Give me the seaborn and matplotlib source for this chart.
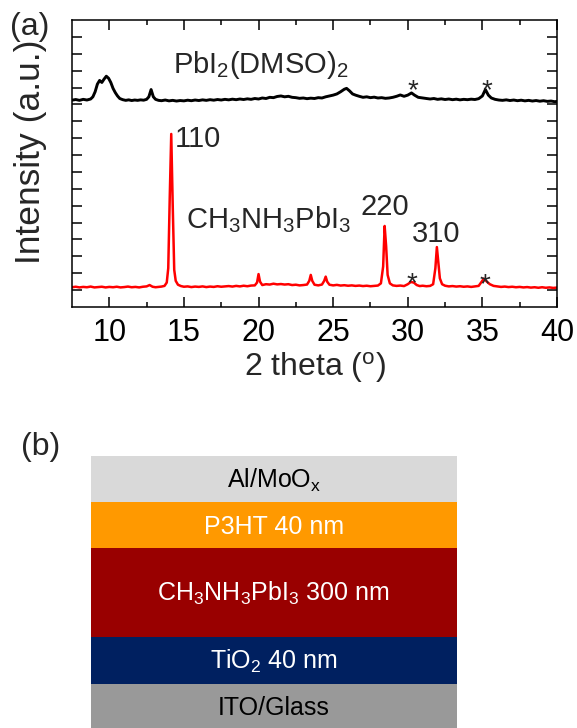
import numpy as np
import pandas as pd
import matplotlib
matplotlib.use("Agg")
import matplotlib.pyplot as plt
import seaborn as sns

# ---- XRD traces (2 theta in degrees, intensity in arbitrary offset units) ----
mapi_2theta = [
    7.5, 7.75, 8.0, 8.25, 8.5, 8.75, 9.0, 9.25, 9.5, 9.75, 10.0, 10.25, 10.5, 10.75,
    11.0, 11.25, 11.5, 11.75, 12.0, 12.25, 12.5, 12.7, 12.9, 13.1, 13.3, 13.5, 13.7,
    13.85, 13.95, 14.05, 14.15, 14.25, 14.35, 14.45, 14.6, 14.8, 15.0, 15.25, 15.5,
    15.75, 16.0, 16.25, 16.5, 16.75, 17.0, 17.25, 17.5, 17.75, 18.0, 18.25, 18.5,
    18.75, 19.0, 19.25, 19.5, 19.75, 19.9, 20.0, 20.1, 20.25, 20.5, 20.75, 21.0,
    21.25, 21.5, 21.75, 22.0, 22.25, 22.5, 22.75, 23.0, 23.25, 23.4, 23.5, 23.6,
    23.75, 24.0, 24.25, 24.4, 24.5, 24.6, 24.75, 25.0, 25.25, 25.5, 25.75, 26.0,
    26.25, 26.5, 26.75, 27.0, 27.25, 27.5, 27.75, 28.0, 28.2, 28.35, 28.45, 28.55,
    28.65, 28.8, 29.0, 29.25, 29.5, 29.75, 30.0, 30.2, 30.4, 30.6, 30.8, 31.0,
    31.25, 31.5, 31.7, 31.85, 31.95, 32.05, 32.15, 32.3, 32.5, 32.75, 33.0, 33.25,
    33.5, 33.75, 34.0, 34.25, 34.5, 34.75, 34.95, 35.1, 35.3, 35.5, 35.75, 36.0,
    36.25, 36.5, 36.75, 37.0, 37.25, 37.5, 37.75, 38.0, 38.25, 38.5, 38.75, 39.0,
    39.25, 39.5, 39.75, 40.0,
]
mapi_intensity = [
    1.17, 1.20, 1.16, 1.19, 1.17, 1.21, 1.16, 1.18, 1.20, 1.16, 1.19, 1.17, 1.20, 1.16,
    1.18, 1.21, 1.17, 1.19, 1.16, 1.20, 1.22, 1.30, 1.20, 1.17, 1.19, 1.21, 1.25,
    1.45, 2.30, 6.50, 10.25, 6.00, 2.20, 1.55, 1.32, 1.24, 1.20, 1.22, 1.18,
    1.21, 1.19, 1.22, 1.18, 1.21, 1.19, 1.23, 1.20, 1.22, 1.24, 1.21, 1.25,
    1.22, 1.26, 1.23, 1.27, 1.28, 1.45, 1.95, 1.50, 1.30, 1.35, 1.33, 1.38,
    1.34, 1.36, 1.33, 1.35, 1.30, 1.32, 1.28, 1.30, 1.33, 1.55, 1.90, 1.55,
    1.32, 1.28, 1.33, 1.55, 1.80, 1.50, 1.32, 1.28, 1.31, 1.27, 1.29, 1.26,
    1.28, 1.25, 1.27, 1.24, 1.26, 1.23, 1.25, 1.27, 1.40, 2.40, 4.80, 3.60,
    1.90, 1.40, 1.28, 1.25, 1.27, 1.24, 1.35, 1.48, 1.45, 1.30, 1.24, 1.26,
    1.23, 1.25, 1.35, 2.30, 3.55, 2.60, 1.70, 1.35, 1.26, 1.22, 1.24, 1.21,
    1.23, 1.20, 1.22, 1.19, 1.22, 1.25, 1.50, 1.68, 1.50, 1.35, 1.25, 1.22,
    1.19, 1.21, 1.18, 1.20, 1.17, 1.19, 1.16, 1.18, 1.15, 1.17, 1.14, 1.17,
    1.14, 1.16, 1.13, 1.15,
]

dmso_2theta = [
    7.5, 7.75, 8.0, 8.25, 8.5, 8.75, 8.9, 9.05, 9.2, 9.35, 9.5, 9.65, 9.8, 9.95,
    10.1, 10.25, 10.4, 10.55, 10.7, 10.9, 11.1, 11.3, 11.5, 11.7, 11.9, 12.1, 12.3,
    12.5, 12.65, 12.8, 12.95, 13.1, 13.3, 13.5, 13.75, 14.0, 14.25, 14.5, 14.75,
    15.0, 15.25, 15.5, 15.75, 16.0, 16.25, 16.5, 16.75, 17.0, 17.25, 17.5, 17.75,
    18.0, 18.25, 18.5, 18.75, 19.0, 19.25, 19.5, 19.75, 20.0, 20.25, 20.5, 20.75,
    21.0, 21.25, 21.5, 21.75, 22.0, 22.25, 22.5, 22.75, 23.0, 23.25, 23.5, 23.75,
    24.0, 24.25, 24.5, 24.75, 25.0, 25.25, 25.5, 25.75, 25.9, 26.1, 26.3, 26.5,
    26.75, 27.0, 27.25, 27.5, 27.75, 28.0, 28.25, 28.5, 28.75, 29.0, 29.25, 29.5,
    29.75, 30.0, 30.25, 30.45, 30.7, 31.0, 31.25, 31.5, 31.75, 32.0, 32.25, 32.5,
    32.75, 33.0, 33.25, 33.5, 33.75, 34.0, 34.25, 34.5, 34.75, 35.0, 35.2, 35.4,
    35.6, 35.85, 36.1, 36.35, 36.6, 36.85, 37.1, 37.35, 37.6, 37.85, 38.1, 38.35,
    38.6, 38.85, 39.1, 39.35, 39.6, 39.85, 40.0,
]
dmso_intensity = [
    12.25, 12.29, 12.24, 12.30, 12.26, 12.32, 12.45, 12.75, 13.20, 13.42, 13.30, 13.50, 13.67, 13.55,
    13.30, 12.95, 12.70, 12.50, 12.35, 12.28, 12.24, 12.27, 12.23, 12.26, 12.24, 12.27, 12.25,
    12.30, 12.45, 12.88, 12.45, 12.30, 12.24, 12.22, 12.26, 12.21, 12.24, 12.20, 12.23,
    12.21, 12.25, 12.22, 12.26, 12.23, 12.27, 12.24, 12.28, 12.25, 12.29, 12.26, 12.30,
    12.27, 12.31, 12.28, 12.32, 12.29, 12.33, 12.30, 12.35, 12.32, 12.38, 12.35, 12.42,
    12.40, 12.47, 12.50, 12.45, 12.48, 12.42, 12.40, 12.36, 12.38, 12.34, 12.37, 12.35,
    12.40, 12.38, 12.45, 12.50, 12.55, 12.62, 12.75, 12.90, 12.95, 12.80, 12.62, 12.55,
    12.48, 12.42, 12.45, 12.40, 12.43, 12.38, 12.40, 12.36, 12.38, 12.42, 12.48, 12.56,
    12.48, 12.55, 12.68, 12.55, 12.42, 12.38, 12.35, 12.32, 12.35, 12.30, 12.33, 12.29,
    12.32, 12.28, 12.31, 12.27, 12.30, 12.28, 12.31, 12.29, 12.34, 12.50, 12.88, 12.55,
    12.38, 12.30, 12.26, 12.24, 12.27, 12.23, 12.26, 12.22, 12.25, 12.21, 12.24, 12.20,
    12.23, 12.19, 12.22, 12.18, 12.20, 12.16, 12.18,
]

# Miller-index labels for the perovskite reflections: (text, 2theta, intensity)
hkl_labels = ["110", "220", "310"]
hkl_2theta = [14.4, 26.8, 30.28]
hkl_intensity = [9.5, 5.45, 3.85]

# Impurity markers (*) on each trace
star_2theta = [30.35, 35.3, 30.28, 35.2]
star_intensity = [12.39, 12.39, 0.96, 0.90]

# ---- Device stack (bottom to top), schematic heights ----
layer_names = ["ITO/Glass", r"TiO$_2$ 40 nm", r"CH$_3$NH$_3$PbI$_3$ 300 nm",
               "P3HT 40 nm", r"Al/MoO$_\mathregular{x}$"]
layer_heights = [1.0, 1.0, 1.93, 1.0, 1.0]
layer_colors = ["#999999", "#002060", "#990000", "#ff9900", "#d9d9d9"]
layer_text_colors = ["black", "white", "white", "white", "black"]

sns.set_style("ticks")
plt.rcParams["font.family"] = ["Liberation Sans", "DejaVu Sans"]
plt.rcParams["mathtext.fontset"] = "custom"
plt.rcParams["mathtext.rm"] = "Liberation Sans"
plt.rcParams["mathtext.it"] = "Liberation Sans:italic"
plt.rcParams["mathtext.bf"] = "Liberation Sans:bold"
plt.rcParams["mathtext.default"] = "regular"

W, H = 577, 728
fig = plt.figure(figsize=(W / 100, H / 100), dpi=100)

# ---------------- (a) XRD ----------------
ax = fig.add_axes([72 / W, 1 - 307 / H, 485 / W, 287 / H])
sns.lineplot(x=dmso_2theta, y=dmso_intensity, color="black", linewidth=2.1, ax=ax)
sns.lineplot(x=mapi_2theta, y=mapi_intensity, color="red", linewidth=1.8, ax=ax)

ax.set_xlim(7.5, 40)
ax.set_ylim(0, 17)
ax.set_xticks([10, 15, 20, 25, 30, 35, 40])
ax.set_xticks(np.arange(12.5, 40, 5), minor=True)
ax.set_yticks(np.arange(1, 17))
ax.set_yticklabels([])
ax.tick_params(axis="both", which="both", direction="in", top=True, right=True,
               width=1.1, colors="black")
ax.tick_params(axis="x", which="major", length=7, labelsize=22, pad=8)
ax.tick_params(axis="x", which="minor", length=3.6)
ax.tick_params(axis="y", which="major", length=7)
for sp in ax.spines.values():
    sp.set_linewidth(1.1)
    sp.set_color("black")

ax.set_xlabel(r"2 theta ($^\mathregular{o}$)", fontsize=23, labelpad=1)
ax.set_ylabel("Intensity (a.u.)", fontsize=25.5, va="center")
ax.yaxis.set_label_coords(-0.085, 0.54)

ax.text(14.27, 13.86, r"PbI$_2$(DMSO)$_2$", fontsize=21, ha="left", va="baseline")
ax.text(15.14, 4.68, r"CH$_3$NH$_3$PbI$_3$", fontsize=21, ha="left", va="baseline")
for lab, xv, yv in zip(hkl_labels, hkl_2theta, hkl_intensity):
    ax.text(xv, yv, lab, fontsize=21, ha="left", va="baseline")
for xv, yv in zip(star_2theta, star_intensity):
    ax.text(xv, yv, "*", fontsize=20, ha="center", va="baseline")

fig.text(10 / W, 1 - 35 / H, "(a)", fontsize=23, ha="left", va="baseline")

# ---------------- (b) device stack ----------------
ax2 = fig.add_axes([90.7 / W, 0, 366 / W, 272 / H])
bottoms = np.concatenate([[0], np.cumsum(layer_heights)[:-1]])
ax2.bar(x=[0] * len(layer_heights), height=layer_heights, bottom=bottoms,
        width=1.0, color=layer_colors, edgecolor="none")
ax2.set_xlim(-0.5, 0.5)
ax2.set_ylim(0.04, sum(layer_heights))
ax2.axis("off")
for name, b, h, tc in zip(layer_names, bottoms, layer_heights, layer_text_colors):
    ax2.text(0, b + h / 2 - 0.18, name, fontsize=18, color=tc,
             ha="center", va="baseline")

fig.text(21 / W, 1 - 455 / H, "(b)", fontsize=23, ha="left", va="baseline")

fig.savefig("out.png", dpi=100)
